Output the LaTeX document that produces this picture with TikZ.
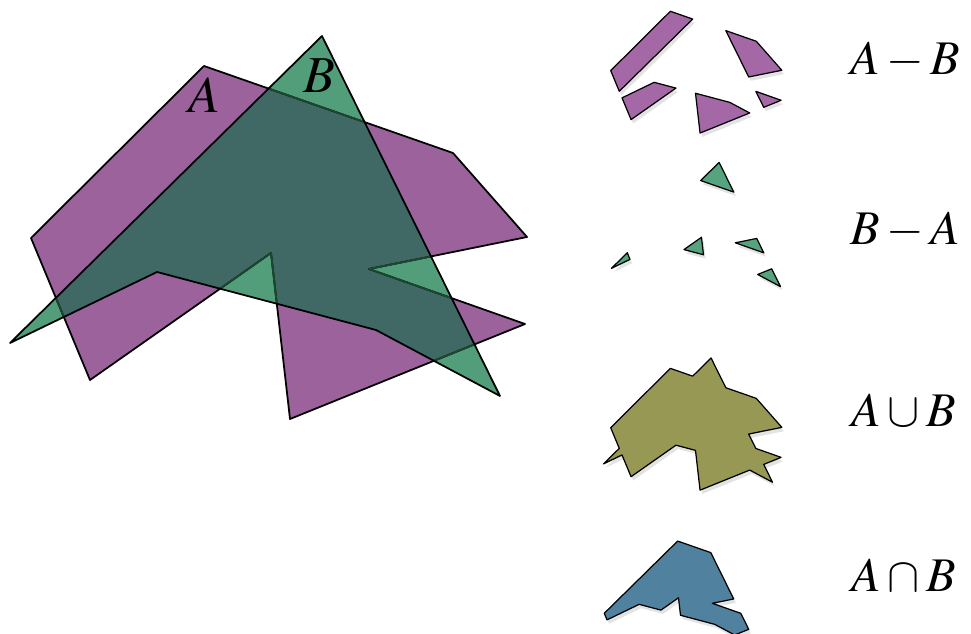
\documentclass[tikz,border=0pt]{standalone}
\usepackage{mathptmx}
\usepackage{xcolor}
\usepackage{tikz}
\usetikzlibrary{shadows}

\definecolor{purpA}{RGB}{155,98,155}
\definecolor{greenB}{RGB}{82,158,122}
\definecolor{tealAB}{RGB}{64,104,101}
\definecolor{edgeAB}{RGB}{28,72,50}
\definecolor{purpPiece}{RGB}{163,104,165}
\definecolor{greenPiece}{RGB}{86,163,127}
\definecolor{olivePiece}{RGB}{152,152,85}
\definecolor{bluePiece}{RGB}{80,130,160}

\newcommand{\polyA}{(204,66) -- (453,153) -- (527,237) -- (369,269) -- (525,324)
  -- (290,419) -- (271,253) -- (90,380) -- (31,238) -- cycle}
\newcommand{\polyB}{(322,36) -- (500,396) -- (376,330) -- (157,272) -- (10,343) -- cycle}
\newcommand{\polyAcapB}{(268.6,88.6) -- (364.6,122.1) -- (431,256.4) -- (369,269)
  -- (451.6,298.1) -- (474.5,344.4) -- (433.9,360.8) -- (376,330) -- (276.8,303.7)
  -- (271,253) -- (220.1,288.7) -- (157,272) -- (63.8,317) -- (55.9,297.9) -- cycle}
\newcommand{\polyAcupB}{(322,36) -- (364.6,122.1) -- (453,153) -- (527,237)
  -- (431,256.4) -- (451.6,298.1) -- (525,324) -- (474.5,344.4) -- (500,396)
  -- (433.9,360.8) -- (290,419) -- (276.8,303.7) -- (220.1,288.7) -- (90,380)
  -- (63.8,317) -- (10,343) -- (55.9,297.9) -- (31,238) -- (204,66) -- (268.6,88.6) -- cycle}

\begin{document}
\begin{tikzpicture}[
  x=0.02cm, y=-0.02cm,
  edge/.style={draw=black, line width=1pt, line join=round},
  piece/.style={draw=black, line width=0.7pt, line join=round,
    drop shadow={shadow xshift=1.2pt, shadow yshift=-2.2pt, opacity=0.22}},
  setname/.style={anchor=base, inner sep=0pt, font=\fontsize{27.5}{32}\selectfont},
  bigname/.style={anchor=base, inner sep=0pt, font=\fontsize{29.5}{34}\selectfont},
]
  \useasboundingbox (0,0) rectangle (971,634);

  \fill[purpA] \polyA;
  \fill[greenB] \polyB;
  \fill[tealAB] \polyAcapB;
  \draw[edge] \polyA;
  \begin{scope}
    \clip \polyB;
    \draw[edge, draw=edgeAB] \polyA;
  \end{scope}
  \draw[edge] \polyB;

  \node[bigname] (nameA) at (204,113) {$A$};
  \node[bigname] (nameB) at (319,93) {$B$};

  \begin{scope}[shift={(600,-11.5)}, scale=0.345]
    \foreach \p in {{(204,66) -- (268.6,88.6) -- (55.9,297.9) -- (31,238) -- cycle},
                    {(364.6,122.1) -- (453,153) -- (527,237) -- (431,256.4) -- cycle},
                    {(451.6,298.1) -- (525,324) -- (474.5,344.4) -- cycle},
                    {(433.9,360.8) -- (290,419) -- (276.8,303.7) -- (376,330) -- cycle},
                    {(220.1,288.7) -- (90,380) -- (63.8,317) -- (157,272) -- cycle}}
      \filldraw[piece, fill=purpPiece] \p;
  \end{scope}

  \begin{scope}[shift={(608,150)}, scale=0.345]
    \foreach \p in {{(322,36) -- (364.6,122.1) -- (268.6,88.6) -- cycle},
                    {(10,343) -- (55.9,297.9) -- (63.8,317) -- cycle},
                    {(271,253) -- (276.8,303.7) -- (220.1,288.7) -- cycle},
                    {(431,256.4) -- (369,269) -- (451.6,298.1) -- cycle},
                    {(474.5,344.4) -- (500,396) -- (433.9,360.8) -- cycle}}
      \filldraw[piece, fill=greenPiece] \p;
  \end{scope}

  \begin{scope}[shift={(600,345.6)}, scale=0.345]
    \filldraw[piece, fill=olivePiece] \polyAcupB;
  \end{scope}

  \begin{scope}[shift={(585,510.5)}, scale=0.345]
    \filldraw[piece, fill=bluePiece] \polyAcapB;
  \end{scope}

  \node[setname] (AminusB) at (905,75) {$A-B$};
  \node[setname] (BminusA) at (905,245) {$B-A$};
  \node[setname] (AcupB) at (904,427) {$A\cup B$};
  \node[setname] (AcapB) at (904,592) {$A\cap B$};
\end{tikzpicture}
\end{document}
